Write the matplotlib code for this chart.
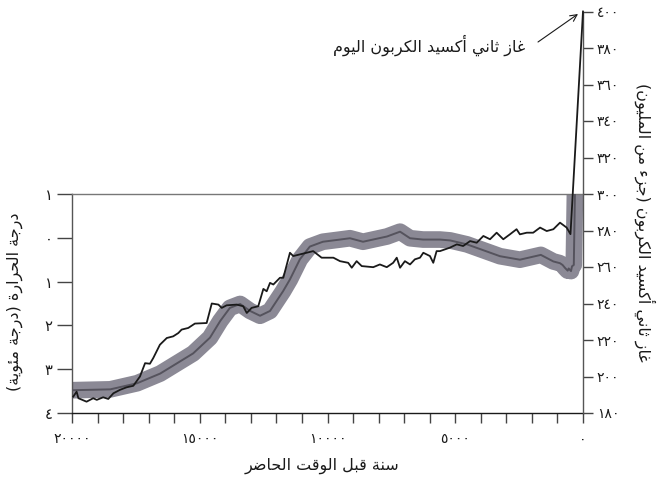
import matplotlib
matplotlib.use('Agg')
import matplotlib.pyplot as plt
from matplotlib.ticker import MultipleLocator, FixedLocator, FuncFormatter

# temperature (deg C), years before present
temp_years = [20000, 18500, 17450, 16550, 15260, 14600, 14200, 13820, 13420, 13030,
              12640, 12250, 11740, 11470, 11080, 10690, 10180, 9510, 9120, 8610,
              8220, 7670, 7160, 6770, 6260, 5600, 5200, 4540, 3250, 2470,
              1650, 1160, 900, 800, 700, 600, 560, 470, 430, 360, 300]
temp_c = [-3.48, -3.46, -3.32, -3.10, -2.64, -2.28, -1.90, -1.60, -1.51, -1.67,
          -1.78, -1.67, -1.22, -0.95, -0.49, -0.20, -0.09, -0.04, -0.01, -0.09,
          -0.04, 0.03, 0.14, -0.01, -0.04, -0.04, -0.06, -0.15, -0.42, -0.50,
          -0.39, -0.54, -0.58, -0.62, -0.69, -0.75, -0.70, -0.76, -0.65, -0.62, 1.6]

# CO2 (ppm), years before present
co2_years = [19950, 19820, 19750, 19430, 19170, 19030, 18780, 18580, 18380, 18120,
             17860, 17600, 17340, 17140, 16950, 16820, 16560, 16290, 16040, 15840,
             15710, 15450, 15190, 14730, 14530, 14270, 14140, 13950, 13550, 13300,
             13160, 12970, 12710, 12510, 12380, 12250, 12120, 11860, 11730, 11470,
             11340, 11080, 10820, 10560, 10230, 9770, 9510, 9190, 9050, 8860,
             8660, 8210, 7950, 7680, 7430, 7290, 7160, 6970, 6770, 6580,
             6380, 6250, 5990, 5860, 5730, 5600, 5210, 4940, 4690, 4420,
             4160, 3900, 3640, 3380, 3120, 2860, 2600, 2470, 2200, 1950,
             1680, 1420, 1160, 900, 640, 490, 0]
co2_ppm = [189.0, 191.7, 188.1, 186.2, 188.1, 187.2, 188.6, 187.7, 190.8, 192.7,
           194.1, 194.9, 200.0, 207.3, 207.0, 210.1, 217.4, 221.1, 222.0, 223.8,
           225.7, 226.6, 229.0, 229.3, 240.0, 239.4, 237.6, 239.0, 239.4, 238.5,
           234.8, 237.6, 238.5, 248.0, 246.7, 251.3, 250.4, 254.1, 254.1, 267.8,
           266.0, 266.9, 267.8, 268.7, 265.1, 265.1, 263.2, 262.3, 259.6, 263.2,
           260.5, 259.9, 261.4, 259.9, 262.3, 265.1, 259.6, 263.2, 261.4, 264.2,
           265.1, 267.8, 266.0, 262.3, 268.7, 268.7, 270.6, 272.4, 271.5, 274.2,
           273.3, 277.0, 275.2, 278.8, 275.2, 277.9, 280.7, 277.9, 278.8, 278.8,
           281.6, 279.7, 280.7, 284.3, 281.6, 278.0, 400.0]

x_major = [20000, 15000, 10000, 5000, 0]
temp_ticks = [1, 0, -1, -2, -3, -4]
co2_ticks = list(range(180, 401, 20))

TXT_XLABEL = 'سنة قبل الوقت الحاضر'
TXT_YLABEL = 'درجة الحرارة (درجة مئوية)'
TXT_Y2LABEL = 'غاز ثاني أكسيد الكربون (جزء من المليون)'
TXT_NOTE = 'غاز ثاني أكسيد الكربون اليوم'

BAND = '#8b8995'
BAND_LINE = '#55535d'
INK = '#1a1a1a'
TICK = '#444444'

# --- minimal Arabic shaping (matplotlib has no shaping / bidi) ---
_letters = ('\u0621\u0622\u0623\u0624\u0625\u0626\u0627\u0628\u0629\u062a\u062b'
            '\u062c\u062d\u062e\u062f\u0630\u0631\u0632\u0633\u0634\u0635\u0636'
            '\u0637\u0638\u0639\u063a\u0641\u0642\u0643\u0644\u0645\u0646\u0647'
            '\u0648\u0649\u064a')
_nforms = [1, 2, 2, 2, 2, 4, 2, 4, 2, 4, 4, 4, 4, 4, 2, 2, 2, 2, 4, 4, 4, 4,
           4, 4, 4, 4, 4, 4, 4, 4, 4, 4, 4, 2, 2, 4]
FORMS = {}
_base = 0xFE80
for ch, n in zip(_letters, _nforms):
    FORMS[ch] = [_base + k for k in range(n)]
    _base += n


def shape(s):
    out = []
    for i, c in enumerate(s):
        if c not in FORMS:
            out.append(c)
            continue
        f = FORMS[c]
        prev = s[i - 1] if i > 0 else ''
        nxt = s[i + 1] if i + 1 < len(s) else ''
        jp = prev in FORMS and len(FORMS[prev]) == 4 and len(f) > 1
        jn = len(f) == 4 and nxt in FORMS and len(FORMS[nxt]) > 1
        if jp and jn:
            g = f[3]
        elif jp:
            g = f[1]
        elif jn:
            g = f[2]
        else:
            g = f[0]
        out.append(chr(g))
    vis = ''.join(reversed(out))
    return vis.translate(str.maketrans('()', ')('))


AR_DIGITS = str.maketrans('0123456789', '٠١٢٣٤٥٦٧٨٩')


def ar_num(v):
    return str(abs(int(round(v)))).translate(AR_DIGITS)


plt.rcParams.update({
    'font.family': 'DejaVu Sans',
    'font.size': 10,
})

W, H = 660, 482
fig = plt.figure(figsize=(W / 100, H / 100), dpi=100, facecolor='white')

left, right = 72 / W, 583 / W
bottom = 1 - 413 / H
top = 1 - 194 / H
ax = fig.add_axes([left, bottom, right - left, top - bottom])
h2 = (top - bottom) * 220 / 120
ax2 = fig.add_axes([left, bottom, right - left, h2])

# temperature band + centre line
ax.plot(temp_years, temp_c, color=BAND, lw=12, solid_joinstyle='round',
        solid_capstyle='butt', zorder=2)
ax.plot(temp_years, temp_c, color=BAND_LINE, lw=1.4, zorder=3)
ax.set_xlim(20000, 0)
ax.set_ylim(-4, 1)

ax.spines['right'].set_visible(False)
ax.spines['top'].set_color('#777777')
ax.spines['left'].set_color('#555555')
ax.spines['bottom'].set_color(INK)
for s in ax.spines.values():
    s.set_linewidth(1.0)

ax.xaxis.set_major_locator(FixedLocator(x_major))
ax.xaxis.set_minor_locator(MultipleLocator(1000))
ax.xaxis.set_major_formatter(FuncFormatter(lambda v, p: ar_num(v)))
ax.tick_params(axis='x', which='both', direction='out', length=7, width=1,
               color=TICK, pad=7, labelsize=10, labelcolor=INK)
ax.yaxis.set_major_locator(FixedLocator(temp_ticks))
ax.yaxis.set_major_formatter(FuncFormatter(lambda v, p: ar_num(v)))
ax.tick_params(axis='y', direction='out', length=11, width=1, color=TICK,
               pad=3, labelsize=10.5, labelcolor=INK)

# CO2 axis, extends above the box
ax2.patch.set_visible(False)
ax2.plot(co2_years, co2_ppm, color=INK, lw=1.3, clip_on=False, zorder=4)
ax2.set_xlim(20000, 0)
ax2.set_ylim(180, 400)
for k in ['left', 'top', 'bottom']:
    ax2.spines[k].set_visible(False)
ax2.spines['right'].set_color('#555555')
ax2.spines['right'].set_linewidth(1.0)
ax2.set_xticks([])
ax2.yaxis.tick_right()
ax2.yaxis.set_major_locator(FixedLocator(co2_ticks))
ax2.yaxis.set_major_formatter(FuncFormatter(lambda v, p: ar_num(v)))
ax2.tick_params(axis='y', direction='out', length=7, width=1, color=TICK,
                pad=3, labelsize=10, labelcolor=INK)

# labels
fig.text(322 / W, 1 - 466 / H, shape(TXT_XLABEL), ha='center', va='center',
         fontsize=11.5, color=INK)
fig.text(15 / W, 1 - 302 / H, shape(TXT_YLABEL), ha='center', va='center',
         rotation=90, fontsize=11.5, color=INK)
fig.text(645 / W, 1 - 222 / H, shape(TXT_Y2LABEL), ha='center', va='center',
         rotation=270, fontsize=11.5, color=INK)

fig.text(525 / W, 1 - 45 / H, shape(TXT_NOTE), ha='right', va='center',
         fontsize=11.5, color=INK)
ax2.annotate('', xy=(578 / W, 1 - 14 / H), xycoords='figure fraction',
             xytext=(538 / W, 1 - 42 / H), textcoords='figure fraction',
             arrowprops=dict(arrowstyle='->', lw=0.8, color=INK,
                             mutation_scale=12, shrinkA=0, shrinkB=0))

fig.savefig('out.png', dpi=100, facecolor='white')
